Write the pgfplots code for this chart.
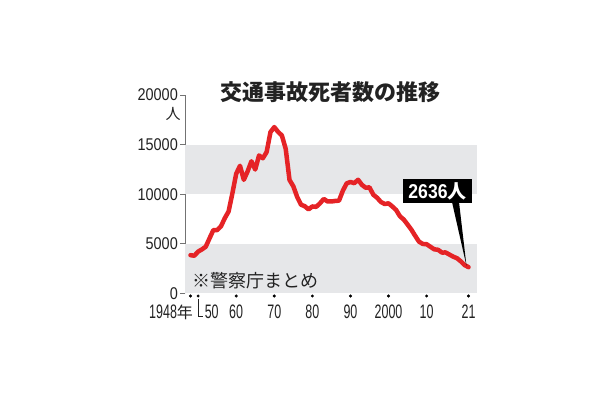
\documentclass[border=0pt]{standalone}
\usepackage{fontspec}
\usepackage{pgfplots}
\pgfplotsset{compat=1.18}
\setmainfont{Liberation Sans}
\newfontfamily\cjk{Noto Sans CJK JP}
\newfontfamily\ylab[FakeStretch=0.85]{Liberation Sans}
\newfontfamily\xlab[FakeStretch=0.64]{Liberation Sans}
\newfontfamily\boxf[FakeStretch=0.88]{Liberation Sans}
\definecolor{linered}{HTML}{E52326}
\definecolor{band}{HTML}{E6E7E9}
\definecolor{txt}{HTML}{222222}
\tikzset{xl/.style={anchor=base, inner sep=0pt, text=txt, font=\xlab\fontsize{19.5}{19.5}\selectfont}}
\begin{document}
\begin{tikzpicture}
\useasboundingbox (0pt,0pt) rectangle (610pt,400pt);
\fill[white] (0pt,0pt) rectangle (610pt,400pt);
\begin{axis}[
  at={(185pt,106.7pt)}, anchor=south west,
  scale only axis, width=292pt, height=198.3pt,
  xmin=1946.56, xmax=2023.23, ymin=0, ymax=20000,
  clip=false,
  axis x line=none,
  axis y line*=left,
  y axis line style={draw=black!55, line width=0.8pt},
  ytick={0,5000,10000,15000,20000},
  yticklabels={0,5000,10000,15000,20000},
  scaled y ticks=false,
  tick align=outside,
  major tick length=5pt,
  ytick style={draw=black!55, line width=0.8pt},
  yticklabel style={font=\ylab\fontsize{17}{17}\selectfont, text=txt, anchor=east, inner sep=0pt, xshift=-2pt},
]
\fill[band] (axis cs:1946.56,0) rectangle (axis cs:2023.23,5000);
\fill[band] (axis cs:1946.56,10000) rectangle (axis cs:2023.23,15000);
\addplot[linered, line width=4.5pt, line join=round, line cap=round] coordinates {
(1948,3848)(1949,3790)(1950,4202)(1951,4429)(1952,4696)(1953,5544)(1954,6374)(1955,6379)
(1956,6751)(1957,7575)(1958,8248)(1959,10079)(1960,12055)(1961,12865)(1962,11445)(1963,12301)
(1964,13318)(1965,12484)(1966,13904)(1967,13618)(1968,14256)(1969,16257)(1970,16765)(1971,16278)
(1972,15918)(1973,14574)(1974,11432)(1975,10792)(1976,9734)(1977,8945)(1978,8783)(1979,8466)
(1980,8760)(1981,8719)(1982,9073)(1983,9520)(1984,9262)(1985,9261)(1986,9317)(1987,9347)
(1988,10344)(1989,11086)(1990,11227)(1991,11109)(1992,11452)(1993,10942)(1994,10649)(1995,10684)
(1996,9942)(1997,9640)(1998,9211)(1999,9006)(2000,9073)(2001,8757)(2002,8396)(2003,7768)
(2004,7436)(2005,6937)(2006,6415)(2007,5796)(2008,5209)(2009,4979)(2010,4948)(2011,4691)
(2012,4438)(2013,4388)(2014,4113)(2015,4117)(2016,3904)(2017,3694)(2018,3532)(2019,3215)
(2020,2839)(2021,2636)};
\addplot[only marks, mark=*, mark size=1.3pt, black] coordinates {
(1948,-272)(1950,-272)(1960,-272)(1970,-272)(1980,-272)(1990,-272)(2000,-272)(2010,-272)(2021,-272)};
\node[xl] at (axis cs:1960,-2500) {60};
\node[xl] at (axis cs:1970,-2500) {70};
\node[xl] at (axis cs:1980,-2500) {80};
\node[xl] at (axis cs:1990,-2500) {90};
\node[xl] at (axis cs:2000,-2500) {2000};
\node[xl] at (axis cs:2010,-2500) {10};
\node[xl] at (axis cs:2021,-2500) {21};
\node[xl, anchor=base east] at (axis cs:1948.7,-2500) {1948{\cjk\fontsize{16}{16}\selectfont 年}};
\draw[txt, line width=0.8pt] (axis cs:1950,-600) -- (axis cs:1950,-2290) -- (axis cs:1951.3,-2290);
\node[xl, anchor=base west] at (axis cs:1951.7,-2500) {50};
\end{axis}
\node[text=txt, inner sep=0pt] at (173pt,286pt) {\cjk\fontsize{15}{15}\selectfont 人};
\node[text=txt, inner sep=0pt] at (330pt,308pt) {\cjk\bfseries\fontsize{22}{22}\selectfont 交通事故死者数の推移};
\node[anchor=west, text=txt, inner sep=0pt] at (192pt,119pt) {\cjk\fontsize{18}{18}\selectfont ※警察庁まとめ};
\fill[black] (452pt,198pt) -- (459pt,198pt) -- (466.5pt,134pt) -- cycle;
\fill[black] (403pt,197pt) rectangle (472pt,221pt);
\node[text=white, inner sep=0pt] at (437.5pt,209pt) {\boxf\bfseries\fontsize{20}{20}\selectfont 2636{\cjk\bfseries\fontsize{19}{19}\selectfont 人}};
\end{tikzpicture}
\end{document}
